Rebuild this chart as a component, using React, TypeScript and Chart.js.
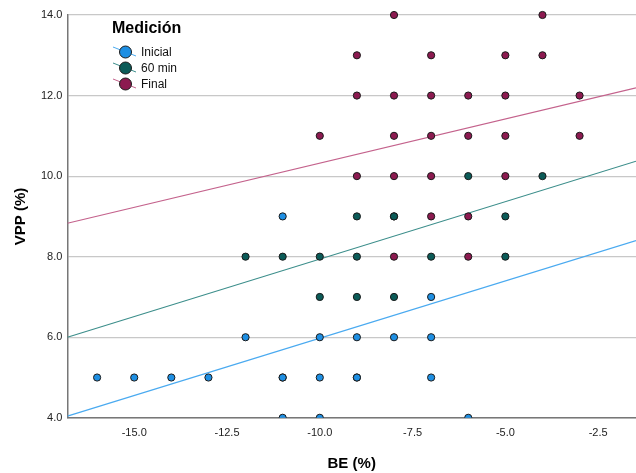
import React, { useEffect, useRef } from "react";
import { Chart, registerables } from "chart.js";

Chart.register(...registerables);

const seriesNames = ["Inicial", "60 min", "Final"];
const seriesColors = ["#1E8FE3", "#0B5B58", "#8C1A50"];
const lineColors = ["#4AAAF0", "#3C8E8B", "#C4628C"];

const inicialX = [-16, -15, -14, -13, -12, -11, -11, -11, -10, -10, -10, -9, -9, -8, -7, -7, -7, -6];
const inicialY = [5, 5, 5, 5, 6, 9, 5, 4, 6, 5, 4, 6, 5, 6, 7, 6, 5, 4];

const min60X = [-12, -11, -10, -10, -9, -9, -9, -9, -8, -8, -7, -6, -5, -5, -4, -11];
const min60Y = [8, 8, 8, 7, 9, 8, 7, 5, 7, 9, 8, 10, 9, 8, 10, 5];

const finalX = [-8, -4, -9, -7, -5, -4, -9, -8, -7, -6, -5, -3, -10, -8, -7, -6, -5, -3, -9, -8, -7, -5, -8, -7, -6, -8, -6];
const finalY = [14, 14, 13, 13, 13, 13, 12, 12, 12, 12, 12, 12, 11, 11, 11, 11, 11, 11, 10, 10, 10, 10, 9, 9, 9, 8, 8];

const fitX = [-16.8, -1.48];
const fitInicialY = [4.04, 8.4];
const fit60Y = [6.0, 10.37];
const fitFinalY = [8.83, 12.19];

const xTicks = [-15, -12.5, -10, -7.5, -5, -2.5];
const yTicks = [4, 6, 8, 10, 12, 14];

const pts = (xs: number[], ys: number[]) => xs.map((x, i) => ({ x, y: ys[i] }));

const legendPlugin = {
  id: "spssLegend",
  afterDraw(chart: any) {
    const ctx = chart.ctx;
    ctx.save();
    ctx.fillStyle = "#000";
    ctx.font = "bold 16px Arial, 'Liberation Sans', sans-serif";
    ctx.textBaseline = "middle";
    ctx.textAlign = "left";
    ctx.fillText("Medición", 112, 29);
    const ys = [52, 68, 84];
    seriesNames.forEach((name, i) => {
      const cy = ys[i];
      ctx.strokeStyle = lineColors[i];
      ctx.lineWidth = 1;
      ctx.beginPath();
      ctx.moveTo(113, cy - 5);
      ctx.lineTo(136, cy + 4);
      ctx.stroke();
      ctx.beginPath();
      ctx.arc(125.5, cy, 6, 0, Math.PI * 2);
      ctx.fillStyle = seriesColors[i];
      ctx.fill();
      ctx.strokeStyle = "#1a1a1a";
      ctx.lineWidth = 1;
      ctx.stroke();
      ctx.fillStyle = "#111";
      ctx.font = "12px Arial, 'Liberation Sans', sans-serif";
      ctx.fillText(name, 141, cy + 1);
    });
    ctx.restore();
  },
};

export default function App() {
  const ref = useRef<HTMLCanvasElement>(null);
  useEffect(() => {
    document.body.style.margin = "0";
    const scatter = (i: number, data: any[]) => ({
      type: "scatter" as const,
      label: seriesNames[i],
      data,
      backgroundColor: seriesColors[i],
      borderColor: "#1a1a1a",
      borderWidth: 1,
      pointRadius: 3.6,
      clip: { left: 0, right: 0, top: false, bottom: 0 },
      order: 1,
    });
    const fit = (i: number, ys: number[]) => ({
      type: "line" as const,
      label: seriesNames[i] + " fit",
      data: pts(fitX, ys),
      borderColor: lineColors[i],
      borderWidth: 1.2,
      pointRadius: 0,
      fill: false,
      order: 2,
    });
    const chart = new Chart(ref.current!, {
      type: "scatter",
      data: {
        datasets: [
          fit(0, fitInicialY),
          fit(1, fit60Y),
          fit(2, fitFinalY),
          scatter(0, pts(inicialX, inicialY)),
          scatter(1, pts(min60X, min60Y)),
          scatter(2, pts(finalX, finalY)),
        ] as any,
      },
      options: {
        animation: false,
        responsive: false,
        layout: { padding: { top: 15, right: 0, left: 12, bottom: 0 } },
        plugins: { legend: { display: false }, tooltip: { enabled: false } },
        scales: {
          x: {
            type: "linear",
            min: -16.8,
            max: -1.48,
            afterBuildTicks: (s: any) => {
              s.ticks = xTicks.map((v) => ({ value: v }));
            },
            grid: { display: false, drawTicks: false },
            border: { display: true, color: "#777", width: 1.5 },
            ticks: {
              padding: 9,
              color: "#222",
              font: { size: 11, family: "Arial, 'Liberation Sans', sans-serif" },
              callback: (v: any) => Number(v).toFixed(1),
            },
            title: {
              display: true,
              text: "BE (%)",
              color: "#000",
              font: { size: 15, weight: "bold", family: "Arial, 'Liberation Sans', sans-serif" },
              padding: { top: 6, bottom: 2 },
            },
          },
          y: {
            type: "linear",
            min: 4,
            max: 14,
            afterBuildTicks: (s: any) => {
              s.ticks = yTicks.map((v) => ({ value: v }));
            },
            grid: { color: "#c8c8c8", lineWidth: 1.2, drawTicks: false },
            border: { display: true, color: "#777", width: 1.5 },
            ticks: {
              padding: 5,
              color: "#222",
              font: { size: 11, family: "Arial, 'Liberation Sans', sans-serif" },
              callback: (v: any) => Number(v).toFixed(1),
            },
            title: {
              display: true,
              text: "VPP (%)",
              color: "#000",
              font: { size: 15, weight: "bold", family: "Arial, 'Liberation Sans', sans-serif" },
              padding: { top: 0, bottom: 6 },
            },
          },
        },
      },
      plugins: [legendPlugin],
    });
    return () => chart.destroy();
  }, []);
  return (
    <div style={{ width: 636, height: 473, overflow: "hidden" }}>
      <canvas ref={ref} width={641} height={475} style={{ display: "block" }} />
    </div>
  );
}
